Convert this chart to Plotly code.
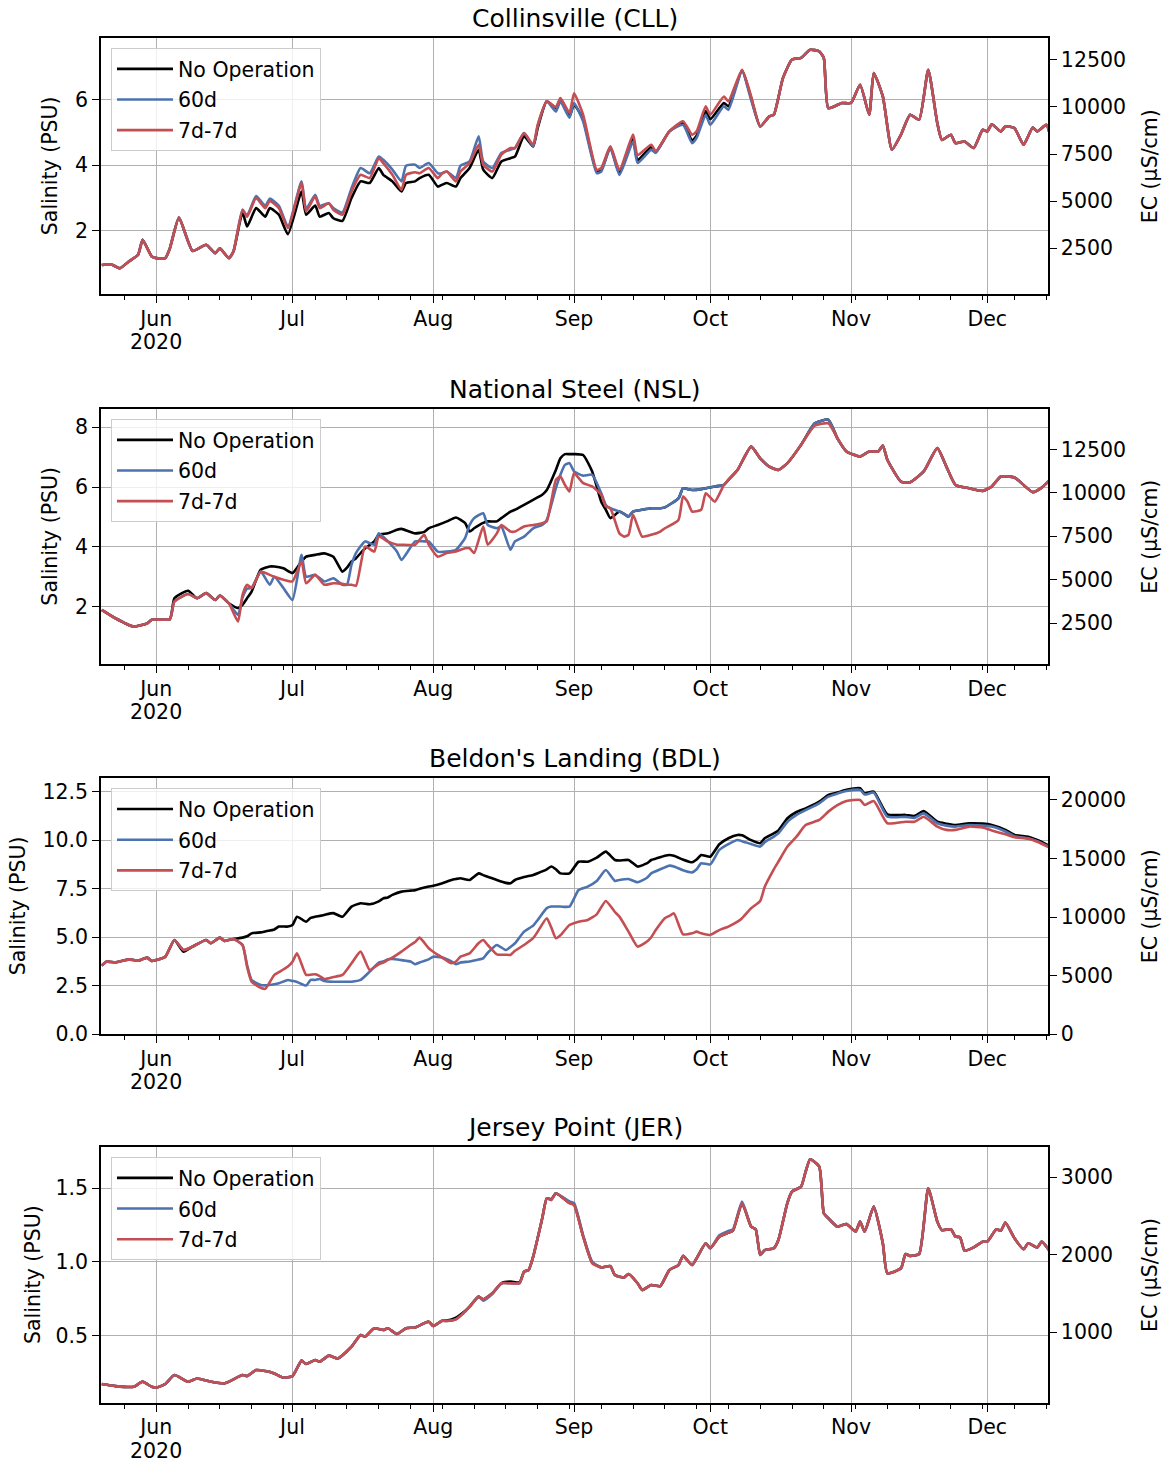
import plotly.graph_objects as go

YEAR = "2020-"
SERIES_NAMES = ["No Operation", "60d", "7d-7d"]
SERIES_COLORS = ["#000000", "#4C72B0", "#C44E52"]
TITLES = ["Collinsville (CLL)", "National Steel (NSL)", "Beldon's Landing (BDL)", "Jersey Point (JER)"]
Y_LEFT_TITLE = "Salinity (PSU)"
Y_RIGHT_TITLE = "EC (\u03bcS/cm)"
MONTH_TICKS = ["2020-06-01", "2020-07-01", "2020-08-01", "2020-09-01", "2020-10-01", "2020-11-01", "2020-12-01"]
MONTH_LABELS = ["Jun", "Jul", "Aug", "Sep", "Oct", "Nov", "Dec"]
YEAR_LABEL = "2020"
YEAR_TICK = "2020-06-01"
SAL_TICKS = [[2, 4, 6], [2, 4, 6, 8], [0, 2.5, 5, 7.5, 10, 12.5], [0.5, 1.0, 1.5]]
SAL_LABELS = [["2", "4", "6"], ["2", "4", "6", "8"], ["0.0", "2.5", "5.0", "7.5", "10.0", "12.5"], ["0.5", "1.0", "1.5"]]
EC_TICKS = [[2500, 5000, 7500, 10000, 12500], [2500, 5000, 7500, 10000, 12500],
            [0, 5000, 10000, 15000, 20000], [1000, 2000, 3000]]
EC_LABELS = [["2500", "5000", "7500", "10000", "12500"], ["2500", "5000", "7500", "10000", "12500"],
             ["0", "5000", "10000", "15000", "20000"], ["1000", "2000", "3000"]]

# ---------------- Collinsville (CLL) ----------------
CLL_DATES = ["05-20", "05-22", "05-24", "05-26", "05-28", "05-29", "05-31", "06-01", "06-03", "06-04",
             "06-06", "06-09", "06-12", "06-14", "06-15", "06-17", "06-18", "06-20", "06-21", "06-23",
             "06-25", "06-26", "06-28", "06-30", "07-03", "07-04", "07-06", "07-07", "07-09", "07-10",
             "07-12", "07-14", "07-16", "07-18", "07-20", "07-21", "07-23", "07-25", "07-26", "07-28",
             "07-29", "07-31", "08-02", "08-03", "08-04", "08-06", "08-07", "08-09", "08-11", "08-12",
             "08-14", "08-16", "08-18", "08-19", "08-21", "08-23", "08-24", "08-26", "08-28", "08-29",
             "08-31", "09-01", "09-03", "09-06", "09-07", "09-09", "09-11", "09-14", "09-15", "09-18",
             "09-19", "09-22", "09-25", "09-27", "09-28", "09-30", "10-01", "10-04", "10-05", "10-08",
             "10-10", "10-12", "10-14", "10-15", "10-17", "10-19", "10-21", "10-23", "10-25", "10-26",
             "10-27", "10-30", "11-01", "11-03", "11-05", "11-06", "11-08", "11-10", "11-12", "11-14",
             "11-16", "11-18", "11-20", "11-21", "11-23", "11-24", "11-26", "11-28", "11-30", "12-01",
             "12-02", "12-04", "12-05", "12-07", "12-09", "12-11", "12-12", "12-14", "12-15"]
CLL_NOOP = [0.94, 0.96, 0.84, 1.05, 1.25, 1.71, 1.20, 1.15, 1.15, 1.45,
            2.39, 1.37, 1.56, 1.30, 1.45, 1.15, 1.35, 2.55, 2.12, 2.68,
            2.42, 2.68, 2.48, 1.88, 3.19, 2.48, 2.76, 2.42, 2.53, 2.37,
            2.29, 2.99, 3.50, 3.45, 3.91, 3.70, 3.50, 3.19, 3.45, 3.50,
            3.60, 3.70, 3.34, 3.40, 3.45, 3.34, 3.60, 3.91, 4.47, 3.86,
            3.60, 4.11, 4.21, 4.26, 4.88, 4.57, 5.13, 5.95, 5.75, 6.00,
            5.50, 5.85, 5.40, 3.80, 3.85, 4.55, 3.75, 4.80, 4.15, 4.55,
            4.40, 5.03, 5.28, 4.75, 4.90, 5.65, 5.40, 5.90, 5.80, 6.90,
            6.05, 5.18, 5.49, 5.54, 6.66, 7.23, 7.28, 7.53, 7.48, 7.28,
            5.74, 5.90, 5.90, 6.46, 5.54, 6.82, 6.10, 4.47, 4.93, 5.54,
            5.39, 6.92, 5.28, 4.77, 4.93, 4.67, 4.72, 4.52, 5.08, 5.03,
            5.25, 5.03, 5.18, 5.13, 4.62, 5.15, 5.03, 5.23, 4.83]
CLL_60D = [0.94, 0.96, 0.84, 1.05, 1.25, 1.71, 1.20, 1.15, 1.15, 1.45,
           2.39, 1.37, 1.56, 1.30, 1.45, 1.15, 1.35, 2.63, 2.45, 3.05,
           2.75, 2.97, 2.75, 2.12, 3.50, 2.65, 3.09, 2.75, 2.83, 2.68,
           2.55, 3.29, 3.91, 3.75, 4.26, 4.16, 3.86, 3.50, 3.98, 4.01,
           3.91, 4.06, 3.75, 3.75, 3.80, 3.60, 3.98, 4.11, 4.88, 4.11,
           3.91, 4.37, 4.47, 4.52, 4.98, 4.57, 5.20, 5.95, 5.64, 5.95,
           5.45, 5.90, 5.34, 3.75, 3.80, 4.52, 3.70, 4.72, 4.06, 4.47,
           4.37, 5.03, 5.23, 4.67, 4.83, 5.54, 5.23, 5.80, 5.69, 6.87,
           6.00, 5.18, 5.49, 5.54, 6.66, 7.23, 7.28, 7.53, 7.48, 7.28,
           5.74, 5.90, 5.90, 6.46, 5.54, 6.82, 6.10, 4.47, 4.93, 5.54,
           5.39, 6.92, 5.28, 4.77, 4.93, 4.67, 4.72, 4.52, 5.08, 5.03,
           5.25, 5.03, 5.18, 5.13, 4.62, 5.15, 5.03, 5.23, 4.83]
CLL_7D = [0.94, 0.96, 0.84, 1.05, 1.25, 1.71, 1.20, 1.15, 1.15, 1.45,
          2.39, 1.37, 1.56, 1.30, 1.45, 1.15, 1.35, 2.63, 2.42, 2.99,
          2.68, 2.90, 2.68, 2.07, 3.45, 2.58, 3.04, 2.68, 2.83, 2.63,
          2.48, 3.19, 3.70, 3.60, 4.21, 4.06, 3.70, 3.24, 3.70, 3.78,
          3.75, 3.91, 3.60, 3.75, 3.80, 3.50, 3.80, 4.06, 4.62, 4.01,
          3.80, 4.32, 4.52, 4.52, 4.98, 4.62, 5.23, 5.95, 5.77, 6.05,
          5.60, 6.20, 5.54, 3.85, 3.91, 4.57, 3.85, 4.93, 4.31, 4.62,
          4.42, 5.03, 5.34, 4.93, 5.03, 5.80, 5.54, 6.10, 5.95, 6.92,
          6.10, 5.18, 5.49, 5.54, 6.66, 7.23, 7.28, 7.53, 7.48, 7.28,
          5.74, 5.90, 5.90, 6.46, 5.54, 6.82, 6.10, 4.47, 4.93, 5.54,
          5.39, 6.92, 5.28, 4.77, 4.93, 4.67, 4.72, 4.52, 5.08, 5.03,
          5.25, 5.03, 5.18, 5.13, 4.62, 5.15, 5.03, 5.23, 4.83]

# ---------------- National Steel (NSL) ----------------
NSL_DATES = ["05-20", "05-23", "05-27", "05-30", "05-31", "06-04", "06-05", "06-08", "06-10", "06-12",
             "06-14", "06-15", "06-17", "06-19", "06-20", "06-21", "06-22", "06-24", "06-26", "06-27",
             "06-29", "07-01", "07-03", "07-04", "07-06", "07-08", "07-10", "07-12", "07-13", "07-14",
             "07-15", "07-17", "07-19", "07-20", "07-22", "07-24", "07-25", "07-28", "07-30", "07-31",
             "08-02", "08-04", "08-06", "08-08", "08-09", "08-10", "08-12", "08-13", "08-15", "08-16",
             "08-18", "08-19", "08-21", "08-23", "08-25", "08-26", "08-28", "08-29", "08-30", "08-31",
             "09-01", "09-03", "09-05", "09-07", "09-08", "09-09", "09-11", "09-12", "09-13", "09-14",
             "09-16", "09-18", "09-20", "09-21", "09-24", "09-25", "09-26", "09-27", "09-29", "09-30",
             "10-02", "10-04", "10-05", "10-07", "10-10", "10-12", "10-14", "10-16", "10-18", "10-21",
             "10-24", "10-27", "10-29", "10-31", "11-03", "11-05", "11-07", "11-08", "11-09", "11-12",
             "11-14", "11-17", "11-20", "11-22", "11-24", "11-27", "11-30", "12-02", "12-04", "12-07",
             "12-11", "12-13", "12-15"]
NSL_NOOP = [1.89, 1.61, 1.33, 1.44, 1.56, 1.58, 2.28, 2.53, 2.28, 2.45,
            2.22, 2.37, 2.11, 1.95, 2.06, 2.28, 2.50, 3.23, 3.34, 3.34,
            3.28, 3.12, 3.51, 3.67, 3.73, 3.78, 3.67, 3.17, 3.30, 3.51,
            3.62, 3.95, 4.18, 4.40, 4.45, 4.57, 4.60, 4.45, 4.50, 4.62,
            4.73, 4.85, 4.98, 4.80, 4.51, 4.62, 4.80, 4.85, 4.85, 4.96,
            5.18, 5.24, 5.40, 5.57, 5.74, 5.90, 6.57, 6.96, 7.10, 7.10,
            7.10, 7.07, 6.52, 5.51, 5.24, 4.96, 5.18, 5.10, 5.01, 5.18,
            5.24, 5.29, 5.29, 5.32, 5.62, 5.96, 5.93, 5.90, 5.93, 5.96,
            6.02, 6.07, 6.24, 6.57, 7.35, 6.96, 6.68, 6.57, 6.80, 7.41,
            8.13, 8.25, 7.63, 7.19, 7.02, 7.19, 7.19, 7.39, 6.91, 6.18,
            6.16, 6.52, 7.30, 6.68, 6.07, 5.96, 5.87, 6.02, 6.35, 6.32,
            5.83, 5.98, 6.27]
NSL_60D = [1.89, 1.61, 1.33, 1.44, 1.56, 1.58, 2.17, 2.42, 2.28, 2.45,
           2.22, 2.37, 2.11, 1.72, 2.30, 2.60, 2.62, 3.17, 2.73, 3.00,
           2.62, 2.22, 3.73, 3.00, 3.06, 2.84, 2.95, 2.73, 2.73, 3.40,
           3.80, 4.18, 4.07, 4.45, 4.18, 3.84, 3.56, 4.18, 4.18, 4.18,
           3.84, 3.84, 3.90, 4.29, 4.73, 4.96, 5.12, 4.73, 4.62, 4.68,
           3.90, 4.18, 4.34, 4.62, 4.73, 4.90, 5.96, 6.41, 6.74, 6.80,
           6.52, 6.38, 6.41, 5.79, 5.40, 5.29, 5.18, 5.10, 5.01, 5.18,
           5.24, 5.29, 5.29, 5.32, 5.62, 5.96, 5.93, 5.90, 5.93, 5.96,
           6.02, 6.07, 6.24, 6.57, 7.35, 6.96, 6.68, 6.57, 6.80, 7.41,
           8.13, 8.25, 7.63, 7.19, 7.02, 7.19, 7.19, 7.39, 6.91, 6.18,
           6.16, 6.52, 7.30, 6.68, 6.07, 5.96, 5.87, 6.02, 6.35, 6.32,
           5.83, 5.98, 6.27]
NSL_7D = [1.89, 1.61, 1.33, 1.44, 1.56, 1.58, 2.17, 2.42, 2.28, 2.45,
          2.22, 2.37, 2.11, 1.50, 2.39, 2.73, 2.62, 3.17, 3.06, 3.00,
          2.90, 2.84, 3.51, 2.78, 3.06, 2.73, 2.78, 2.76, 2.73, 2.73,
          2.70, 4.01, 3.84, 4.34, 4.18, 4.07, 4.07, 4.07, 4.40, 4.07,
          3.67, 3.79, 3.84, 3.95, 3.95, 3.79, 4.68, 4.07, 4.45, 4.73,
          4.51, 4.51, 4.68, 4.73, 4.79, 4.85, 6.24, 6.35, 6.07, 5.85,
          6.46, 6.13, 6.02, 5.74, 5.35, 5.29, 4.45, 4.34, 4.40, 5.07,
          4.34, 4.40, 4.51, 4.62, 4.90, 5.68, 5.51, 5.18, 5.24, 5.79,
          5.51, 6.07, 6.24, 6.57, 7.35, 6.96, 6.68, 6.57, 6.80, 7.41,
          8.05, 8.13, 7.63, 7.19, 7.02, 7.19, 7.19, 7.39, 6.91, 6.18,
          6.16, 6.52, 7.30, 6.68, 6.07, 5.96, 5.87, 6.02, 6.35, 6.32,
          5.83, 5.98, 6.27]

# ---------------- Beldon's Landing (BDL) ----------------
BDL_DATES = ["05-20", "05-21", "05-23", "05-26", "05-28", "05-30", "05-31", "06-01", "06-03", "06-05",
             "06-07", "06-09", "06-12", "06-13", "06-15", "06-16", "06-18", "06-20", "06-21", "06-22",
             "06-24", "06-25", "06-27", "06-28", "06-30", "07-01", "07-02", "07-04", "07-05", "07-06",
             "07-07", "07-08", "07-10", "07-12", "07-14", "07-16", "07-18", "07-20", "07-21", "07-22",
             "07-23", "07-25", "07-27", "07-28", "07-29", "07-31", "08-01", "08-03", "08-05", "08-06",
             "08-07", "08-09", "08-11", "08-12", "08-13", "08-15", "08-17", "08-18", "08-19", "08-21",
             "08-23", "08-24", "08-26", "08-27", "08-28", "08-29", "08-31", "09-02", "09-04", "09-06",
             "09-08", "09-10", "09-11", "09-13", "09-15", "09-17", "09-18", "09-19", "09-21", "09-22",
             "09-23", "09-25", "09-27", "09-28", "09-29", "10-01", "10-03", "10-05", "10-07", "10-08",
             "10-10", "10-12", "10-13", "10-15", "10-16", "10-18", "10-20", "10-22", "10-25", "10-27",
             "10-29", "10-31", "11-03", "11-04", "11-06", "11-09", "11-13", "11-15", "11-17", "11-20",
             "11-22", "11-24", "11-27", "11-30", "12-02", "12-05", "12-07", "12-10", "12-12", "12-15"]
BDL_NOOP = [3.54, 3.74, 3.71, 3.86, 3.79, 3.95, 3.78, 3.83, 4.00, 4.86,
            4.26, 4.52, 4.86, 4.69, 4.98, 4.81, 4.91, 4.98, 5.05, 5.20,
            5.25, 5.30, 5.40, 5.55, 5.55, 5.63, 6.06, 5.80, 6.00, 6.06,
            6.10, 6.15, 6.24, 6.06, 6.58, 6.75, 6.70, 6.85, 7.00, 7.05,
            7.18, 7.35, 7.40, 7.42, 7.50, 7.61, 7.65, 7.78, 7.95, 8.00,
            8.04, 7.95, 8.29, 8.20, 8.12, 7.95, 7.80, 7.78, 7.95, 8.10,
            8.21, 8.30, 8.50, 8.64, 8.50, 8.29, 8.29, 8.89, 8.89, 9.10,
            9.41, 8.98, 8.95, 8.98, 8.64, 8.80, 8.98, 9.05, 9.20, 9.24,
            9.20, 9.00, 8.86, 9.00, 9.24, 9.15, 9.79, 10.10, 10.27, 10.25,
            10.00, 9.84, 10.10, 10.35, 10.50, 11.13, 11.45, 11.64, 11.98, 12.33,
            12.45, 12.59, 12.67, 12.41, 12.50, 11.33, 11.30, 11.25, 11.50, 10.95,
            10.85, 10.78, 10.87, 10.85, 10.78, 10.53, 10.27, 10.18, 10.01, 9.67]
BDL_60D = [3.54, 3.74, 3.71, 3.86, 3.79, 3.95, 3.78, 3.83, 4.00, 4.86,
           4.34, 4.52, 4.86, 4.69, 4.98, 4.81, 4.91, 4.60, 3.57, 2.80,
           2.54, 2.52, 2.58, 2.63, 2.80, 2.75, 2.70, 2.51, 2.80, 2.80,
           2.85, 2.75, 2.71, 2.71, 2.71, 2.80, 3.23, 3.69, 3.75, 3.86,
           3.88, 3.82, 3.75, 3.61, 3.70, 3.86, 4.00, 3.95, 3.75, 3.61,
           3.70, 3.75, 3.85, 3.91, 4.20, 4.60, 4.34, 4.50, 4.69, 5.29,
           5.60, 5.89, 6.50, 6.58, 6.58, 6.58, 6.58, 7.43, 7.61, 7.90,
           8.46, 7.90, 7.95, 8.00, 7.83, 8.05, 8.29, 8.40, 8.60, 8.69,
           8.65, 8.45, 8.34, 8.50, 8.81, 8.75, 9.50, 9.80, 10.01, 9.95,
           9.80, 9.67, 9.90, 10.18, 10.35, 10.95, 11.30, 11.55, 11.90, 12.24,
           12.40, 12.53, 12.59, 12.35, 12.45, 11.21, 11.20, 11.15, 11.38, 10.87,
           10.75, 10.70, 10.78, 10.75, 10.70, 10.45, 10.20, 10.10, 9.95, 9.62]
BDL_7D = [3.54, 3.74, 3.71, 3.86, 3.79, 3.95, 3.78, 3.83, 4.00, 4.86,
          4.34, 4.52, 4.86, 4.69, 4.98, 4.81, 4.91, 4.60, 3.49, 2.71,
          2.40, 2.34, 3.06, 3.20, 3.49, 3.74, 4.17, 3.06, 3.07, 3.09,
          3.00, 2.85, 2.95, 3.06, 3.66, 4.26, 3.31, 3.61, 3.70, 3.83,
          3.95, 4.26, 4.60, 4.75, 4.98, 4.43, 4.25, 3.95, 3.66, 3.75,
          4.00, 4.17, 4.70, 4.86, 4.60, 4.12, 4.10, 4.09, 4.30, 4.60,
          4.95, 5.29, 5.98, 5.50, 4.95, 5.10, 5.63, 5.80, 5.89, 6.18,
          6.87, 6.30, 6.06, 5.29, 4.52, 4.77, 5.00, 5.37, 5.98, 6.10,
          6.23, 5.15, 5.20, 5.29, 5.20, 5.12, 5.37, 5.55, 5.80, 5.98,
          6.49, 6.87, 7.60, 8.50, 8.89, 9.67, 10.18, 10.78, 11.04, 11.47,
          11.81, 12.02, 12.07, 11.81, 12.02, 10.87, 10.95, 10.95, 11.21, 10.70,
          10.53, 10.53, 10.70, 10.65, 10.50, 10.30, 10.15, 10.08, 9.92, 9.58]

# ---------------- Jersey Point (JER) ----------------
JER_DATES = ["05-20", "05-23", "05-27", "05-29", "05-31", "06-01", "06-03", "06-05", "06-08", "06-10",
             "06-13", "06-16", "06-20", "06-21", "06-23", "06-25", "06-27", "06-29", "07-01", "07-03",
             "07-04", "07-06", "07-07", "07-09", "07-11", "07-14", "07-16", "07-17", "07-19", "07-21",
             "07-22", "07-24", "07-26", "07-28", "07-31", "08-01", "08-03", "08-04", "08-06", "08-08",
             "08-09", "08-11", "08-12", "08-14", "08-16", "08-18", "08-20", "08-21", "08-22", "08-23",
             "08-25", "08-26", "08-27", "08-28", "08-31", "09-01", "09-03", "09-05", "09-07", "09-09",
             "09-10", "09-12", "09-13", "09-15", "09-16", "09-18", "09-20", "09-22", "09-24", "09-25",
             "09-27", "09-28", "09-30", "10-01", "10-03", "10-05", "10-06", "10-08", "10-10", "10-11",
             "10-12", "10-13", "10-15", "10-16", "10-18", "10-19", "10-21", "10-22", "10-23", "10-25",
             "10-26", "10-27", "10-29", "10-31", "11-02", "11-03", "11-04", "11-06", "11-08", "11-09",
             "11-12", "11-13", "11-14", "11-16", "11-18", "11-20", "11-21", "11-23", "11-24", "11-25",
             "11-26", "11-28", "11-30", "12-01", "12-03", "12-04", "12-05", "12-07", "12-09", "12-10",
             "12-12", "12-13", "12-15"]
JER_NOOP = [0.169, 0.155, 0.150, 0.185, 0.150, 0.144, 0.169, 0.230, 0.185, 0.207,
            0.185, 0.173, 0.230, 0.223, 0.264, 0.257, 0.241, 0.212, 0.223, 0.328,
            0.305, 0.332, 0.321, 0.362, 0.343, 0.423, 0.502, 0.491, 0.548, 0.536,
            0.548, 0.509, 0.548, 0.554, 0.593, 0.563, 0.600, 0.600, 0.620, 0.665,
            0.695, 0.763, 0.745, 0.786, 0.854, 0.865, 0.860, 0.933, 0.944, 1.035,
            1.296, 1.432, 1.425, 1.466, 1.400, 1.390, 1.175, 0.995, 0.962, 0.971,
            0.910, 0.894, 0.917, 0.854, 0.808, 0.842, 0.835, 0.944, 0.978, 1.040,
            0.978, 1.024, 1.126, 1.092, 1.171, 1.198, 1.212, 1.398, 1.239, 1.221,
            1.046, 1.080, 1.092, 1.148, 1.402, 1.477, 1.511, 1.613, 1.697, 1.647,
            1.330, 1.296, 1.239, 1.257, 1.205, 1.273, 1.205, 1.375, 1.126, 0.922,
            0.956, 1.053, 1.040, 1.053, 1.500, 1.273, 1.216, 1.221, 1.171, 1.167,
            1.076, 1.098, 1.137, 1.137, 1.221, 1.212, 1.266, 1.160, 1.085, 1.126,
            1.098, 1.137, 1.062]
JER_60D = [0.169, 0.155, 0.150, 0.185, 0.150, 0.144, 0.169, 0.230, 0.185, 0.207,
           0.185, 0.173, 0.230, 0.223, 0.264, 0.257, 0.241, 0.212, 0.223, 0.328,
           0.305, 0.332, 0.321, 0.362, 0.343, 0.423, 0.502, 0.491, 0.548, 0.536,
           0.548, 0.509, 0.548, 0.554, 0.593, 0.563, 0.600, 0.597, 0.609, 0.661,
           0.695, 0.763, 0.735, 0.780, 0.854, 0.854, 0.854, 0.933, 0.944, 1.035,
           1.296, 1.432, 1.420, 1.466, 1.410, 1.400, 1.180, 1.000, 0.962, 0.971,
           0.910, 0.894, 0.917, 0.854, 0.808, 0.842, 0.835, 0.944, 0.978, 1.040,
           0.978, 1.024, 1.126, 1.092, 1.180, 1.210, 1.220, 1.410, 1.239, 1.221,
           1.046, 1.080, 1.092, 1.148, 1.402, 1.477, 1.511, 1.613, 1.697, 1.647,
           1.330, 1.296, 1.239, 1.257, 1.205, 1.273, 1.205, 1.375, 1.126, 0.922,
           0.956, 1.053, 1.040, 1.053, 1.500, 1.273, 1.216, 1.221, 1.171, 1.167,
           1.076, 1.098, 1.137, 1.137, 1.221, 1.212, 1.266, 1.160, 1.085, 1.126,
           1.098, 1.137, 1.062]
JER_7D = [0.169, 0.155, 0.150, 0.185, 0.150, 0.144, 0.169, 0.230, 0.185, 0.207,
          0.185, 0.173, 0.230, 0.223, 0.264, 0.257, 0.241, 0.212, 0.223, 0.328,
          0.305, 0.332, 0.321, 0.362, 0.343, 0.423, 0.502, 0.491, 0.548, 0.536,
          0.548, 0.509, 0.548, 0.554, 0.593, 0.563, 0.600, 0.597, 0.609, 0.661,
          0.695, 0.763, 0.745, 0.786, 0.854, 0.854, 0.854, 0.933, 0.944, 1.035,
          1.296, 1.432, 1.420, 1.466, 1.398, 1.386, 1.171, 0.990, 0.962, 0.971,
          0.910, 0.894, 0.917, 0.854, 0.808, 0.842, 0.835, 0.944, 0.978, 1.040,
          0.978, 1.024, 1.126, 1.092, 1.171, 1.198, 1.212, 1.398, 1.239, 1.221,
          1.046, 1.080, 1.092, 1.148, 1.402, 1.477, 1.511, 1.613, 1.697, 1.647,
          1.330, 1.296, 1.239, 1.257, 1.205, 1.273, 1.205, 1.375, 1.126, 0.922,
          0.956, 1.053, 1.040, 1.053, 1.500, 1.273, 1.216, 1.221, 1.171, 1.167,
          1.076, 1.098, 1.137, 1.137, 1.221, 1.212, 1.266, 1.160, 1.085, 1.126,
          1.098, 1.137, 1.062]

PANELS = [
    (CLL_DATES, [CLL_NOOP, CLL_60D, CLL_7D]),
    (NSL_DATES, [NSL_NOOP, NSL_60D, NSL_7D]),
    (BDL_DATES, [BDL_NOOP, BDL_60D, BDL_7D]),
    (JER_DATES, [JER_NOOP, JER_60D, JER_7D]),
]

# ---------------- layout geometry / style ----------------
W, H = 1167, 1463
M_L, M_R, M_T, M_B = 101, 119, 38, 60
DOMAINS = [[0.8122, 1.0], [0.5412, 0.7282], [0.2701, 0.4577], [0.0, 0.1875]]
SAL_RANGES = [[0.04, 7.89], [0.07, 8.61], [0.0, 13.19], [0.04, 1.78]]
EC_RANGES = [[58, 13652], [138, 14821], [0, 21850], [84, 3387]]
LEFT_TITLE_SHIFT = [-51, -51, -83, -68]
RIGHT_TITLE_SHIFT = 102
X_RANGE = ["2020-05-19 20:00", "2020-12-14 09:00"]
FONT = "DejaVu Sans"
FS = 20.5
GRID = "#b0b0b0"
TXT = "#000000"

fig = go.Figure()
layout = dict(
    width=W, height=H, template="none",
    margin=dict(l=M_L, r=M_R, t=M_T, b=M_B, pad=0),
    paper_bgcolor="white", plot_bgcolor="white",
    font=dict(family=FONT, size=FS, color=TXT),
    showlegend=True, annotations=[],
)

plot_h = H - M_T - M_B
for i, (dates, series) in enumerate(PANELS):
    n = i + 1
    xa = "x" if n == 1 else f"x{n}"
    ya = "y" if n == 1 else f"y{n}"
    yr = f"y{n + 4}"
    leg = "legend" if n == 1 else f"legend{n}"
    xs = [YEAR + d for d in dates]
    for name, color, vals in zip(SERIES_NAMES, SERIES_COLORS, series):
        fig.add_trace(go.Scatter(
            x=xs, y=vals, mode="lines", name=name,
            line=dict(color=color, width=2.6, shape="spline", smoothing=0.5),
            xaxis=xa, yaxis=ya, legend=leg, legendgroup=f"{n}-{name}",
            hoverinfo="skip"))
    # empty trace so the secondary (EC) axis is drawn
    fig.add_trace(go.Scatter(x=[], y=[], xaxis=xa, yaxis=yr, showlegend=False,
                             hoverinfo="skip"))

    layout[f"xaxis{'' if n == 1 else n}"] = dict(
        domain=[0, 1], anchor=ya, type="date", range=X_RANGE,
        tickmode="array", tickvals=MONTH_TICKS, ticktext=MONTH_LABELS,
        showgrid=True, gridcolor=GRID, gridwidth=1.3,
        ticks="outside", ticklen=7, tickwidth=1.4, tickcolor="black",
        ticklabelstandoff=-2,
        showline=True, linecolor="black", linewidth=1.5, mirror=True,
        tickfont=dict(size=FS, color=TXT), zeroline=False, automargin=False,
        minor=dict(tickmode="linear", tick0="2020-05-25", dtick=7 * 86400000,
                   ticks="outside", ticklen=4, tickwidth=1.2, tickcolor="black",
                   showgrid=False),
    )
    layout[f"yaxis{'' if n == 1 else n}"] = dict(
        domain=DOMAINS[i], anchor=xa, range=SAL_RANGES[i],
        tickmode="array", tickvals=SAL_TICKS[i], ticktext=SAL_LABELS[i],
        showgrid=True, gridcolor=GRID, gridwidth=1.3,
        ticks="outside", ticklen=7, tickwidth=1.4, tickcolor="black",
        showline=True, linecolor="black", linewidth=1.5, mirror=True,
        tickfont=dict(size=FS, color=TXT), zeroline=False, automargin=False,
    )
    layout[f"yaxis{n + 4}"] = dict(
        overlaying=ya, anchor=xa, side="right", range=EC_RANGES[i],
        tickmode="array", tickvals=EC_TICKS[i], ticktext=EC_LABELS[i],
        showgrid=False, ticks="outside", ticklen=7, tickwidth=1.4, tickcolor="black",
        showline=True, linecolor="black", linewidth=1.5,
        tickfont=dict(size=FS, color=TXT), zeroline=False, automargin=False,
    )
    layout[leg] = dict(
        x=10 / (W - M_L - M_R), y=DOMAINS[i][1] - 10 / plot_h,
        xanchor="left", yanchor="top", traceorder="grouped",
        bgcolor="rgba(255,255,255,0.8)", bordercolor="#cccccc", borderwidth=1,
        font=dict(size=FS, color=TXT), tracegroupgap=1, itemwidth=56,
    )
    mid = (DOMAINS[i][0] + DOMAINS[i][1]) / 2
    layout["annotations"] += [
        dict(text=TITLES[i], x=0.5, xref="paper", y=DOMAINS[i][1], yref="paper",
             xanchor="center", yanchor="bottom", yshift=3, showarrow=False,
             font=dict(size=25, color=TXT)),
        dict(text=Y_LEFT_TITLE, x=0, xref="paper", y=mid, yref="paper",
             xanchor="center", yanchor="middle", xshift=LEFT_TITLE_SHIFT[i],
             textangle=-90, showarrow=False, font=dict(size=FS, color=TXT)),
        dict(text=Y_RIGHT_TITLE, x=1, xref="paper", y=mid, yref="paper",
             xanchor="center", yanchor="middle", xshift=RIGHT_TITLE_SHIFT,
             textangle=-90, showarrow=False, font=dict(size=FS, color=TXT)),
        dict(text=YEAR_LABEL, x=YEAR_TICK, xref=xa, y=DOMAINS[i][0], yref="paper",
             xanchor="center", yanchor="middle", yshift=-48, showarrow=False,
             font=dict(size=FS, color=TXT)),
    ]

fig.update_layout(**layout)
fig.write_html("out.html")
